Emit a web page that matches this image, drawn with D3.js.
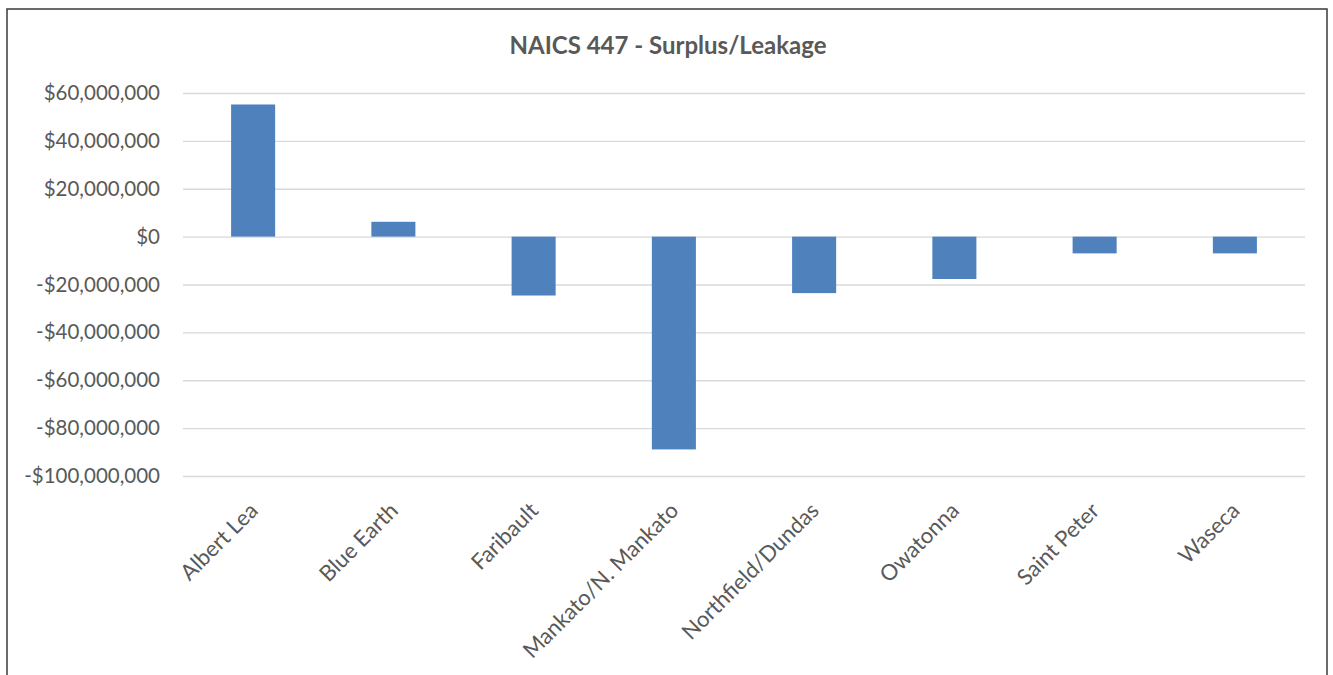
<!DOCTYPE html>
<html>
<head>
<meta charset="utf-8">
<script src="https://cdn.jsdelivr.net/npm/d3@7"></script>
<style>
    body { margin: 0; background: #fff; }
    svg { display: block; }
</style>
</head>
<body>
<svg id="chart"></svg>
<script>
//NAICS 447 Surplus/Leakage - bar chart by city

//the cities along the x axis
const cities = ["Albert Lea", "Blue Earth", "Faribault", "Mankato/N. Mankato",
    "Northfield/Dundas", "Owatonna", "Saint Peter", "Waseca"];
//surplus (+) or leakage (-) in dollars
const surplus = [55200000, 6200000, -24600000, -88900000,
    -23600000, -17700000, -7000000, -7000000];
//y axis tick values
const yTicks = [60000000, 40000000, 20000000, 0, -20000000, -40000000,
    -60000000, -80000000, -100000000];
const chartTitle = "NAICS 447 - Surplus/Leakage";

const w = 1333;
const h = 675;
//plot area
const plotLeft = 183, plotRight = 1305, plotTop = 93, plotBottom = 476;

const svg = d3.select("#chart")
    .attr("width", w)
    .attr("height", h);

//the frame around the chart (no bottom edge, it runs off the picture)
svg.append("path")
    .attr("d", `M7,${h} L7,9 L1327,9 L1327,${h}`)
    .attr("fill", "none")
    .attr("stroke", "#3a3a3a")
    .attr("stroke-width", 1.5);

//scales
let xScale = d3.scaleBand()
    .domain(cities)
    .range([plotLeft, plotRight])
    .paddingInner(0.686)
    .paddingOuter(0.343);

let yScale = d3.scaleLinear()
    .domain([d3.min(yTicks), d3.max(yTicks)])
    .range([plotBottom, plotTop]);

//dollar format with a plain hyphen for negatives
const money = d3.formatLocale({
    decimal: ".", thousands: ",", grouping: [3],
    currency: ["$", ""], minus: "-"
}).format("$,");

//gridlines
svg.append("g")
    .attr("class", "grid")
    .attr("transform", `translate(${plotLeft},0)`)
    .call(d3.axisLeft(yScale).tickValues(yTicks).tickSize(-(plotRight - plotLeft)).tickFormat(""))
    .call(g => g.select(".domain").remove())
    .call(g => g.selectAll("line").attr("stroke", "#d9d9d9").attr("stroke-width", 1.3));

//y axis labels
svg.append("g")
    .attr("class", "yScale")
    .attr("transform", `translate(${plotLeft},0)`)
    .call(d3.axisLeft(yScale).tickValues(yTicks).tickSize(0).tickPadding(23).tickFormat(money))
    .call(g => g.select(".domain").remove())
    .call(g => g.selectAll("text")
        .attr("fill", "#595959")
        .style("font-family", "Lato, 'Open Sans', sans-serif")
        .style("font-size", "20.5px"));

//bars
svg.append("g")
    .attr("class", "bars")
    .selectAll("rect")
    .data(cities)
    .enter()
    .append("rect")
        .attr("x", d => xScale(d))
        .attr("y", (d, i) => yScale(Math.max(0, surplus[i])))
        .attr("width", xScale.bandwidth())
        .attr("height", (d, i) => Math.abs(yScale(0) - yScale(surplus[i])))
        .attr("fill", "#4f81bd");

//x axis labels, turned 45 degrees
svg.append("g")
    .attr("class", "xScale")
    .attr("transform", `translate(0,${plotBottom})`)
    .call(d3.axisBottom(xScale).tickSize(0).tickPadding(0))
    .call(g => g.select(".domain").remove())
    .call(g => g.selectAll("text")
        .attr("fill", "#595959")
        .style("font-family", "Lato, 'Open Sans', sans-serif")
        .style("font-size", "22px")
        .attr("text-anchor", "end")
        .attr("dy", 0)
        .attr("y", 0)
        .attr("transform", "translate(6,36) rotate(-45)"));

//title
svg.append("text")
    .attr("x", 668)
    .attr("y", 54)
    .attr("text-anchor", "middle")
    .attr("fill", "#595959")
    .style("font-family", "Lato, 'Open Sans', sans-serif")
    .style("font-size", "24px")
    .style("font-weight", "700")
    .text(chartTitle);
</script>
</body>
</html>
